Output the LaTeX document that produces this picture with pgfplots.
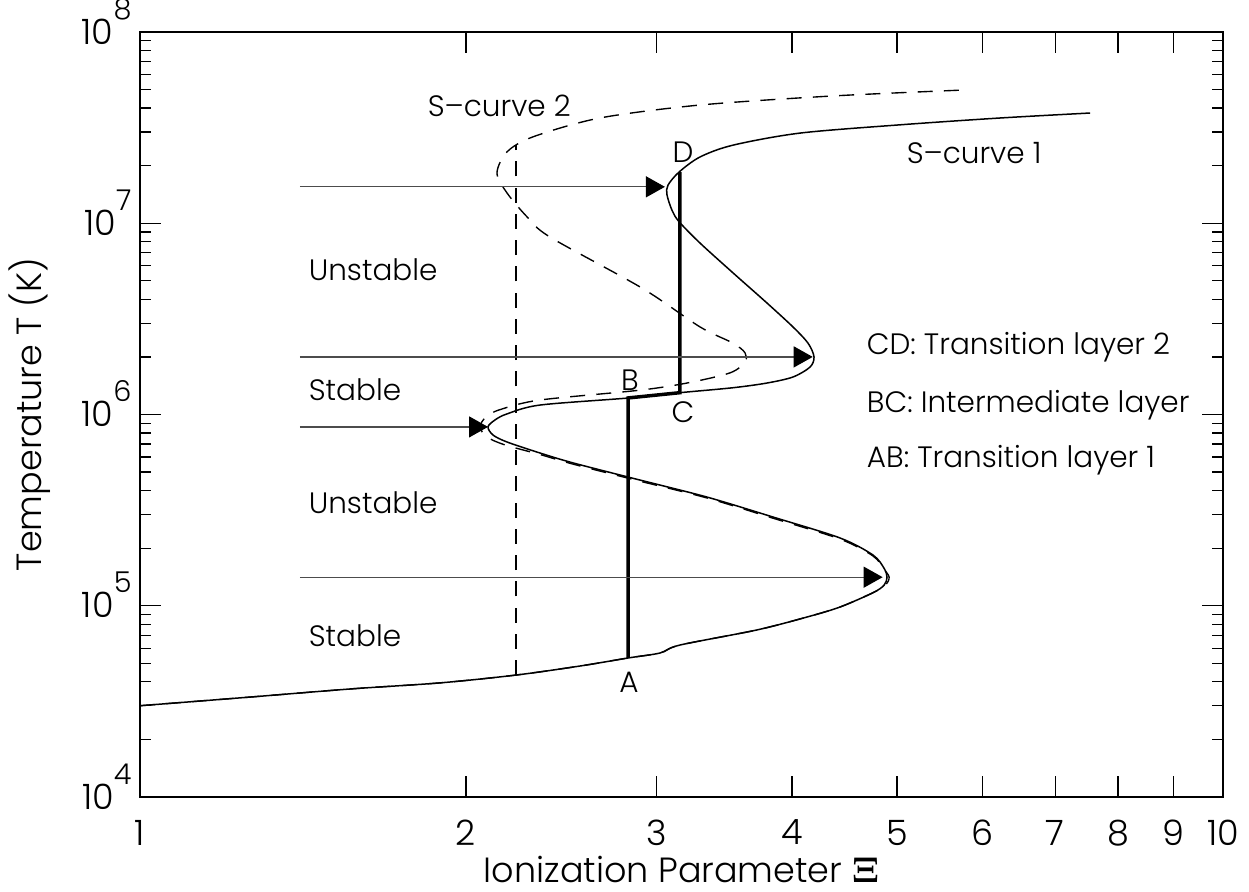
\documentclass[border=0pt]{standalone}
\usepackage[no-math]{fontspec}
\setmainfont{Poppins}[UprightFont=* Light]
\usepackage{pgfplots}
\pgfplotsset{compat=1.18}
\usetikzlibrary{arrows.meta}

\newcommand{\tenpow}[1]{10\raisebox{0.72em}{\fontsize{11.5}{11.5}\selectfont #1}}
\newcommand{\lab}{\fontsize{11.8}{14}\selectfont}

\begin{document}
\begin{tikzpicture}
\begin{axis}[
  xmode=log, ymode=log,
  scale only axis, width=433.2pt, height=306pt,
  xmin=1, xmax=10, ymin=1e4, ymax=1e8,
  axis line style={line width=0.6pt},
  every tick/.style={black, line width=0.5pt},
  tick align=inside,
  xtick pos=both, ytick pos=both,
  xticklabel pos=lower, yticklabel pos=left,
  xtick={1,2,3,4,5,6,7,8,9,10},
  xticklabels={1,2,3,4,5,6,7,8,9,10},
  minor xtick={},
  ytick={1e4,1e5,1e6,1e7,1e8},
  yticklabels={\tenpow{4},\tenpow{5},\tenpow{6},\tenpow{7},\tenpow{8}},
  minor ytick={2e4,3e4,4e4,5e4,6e4,7e4,8e4,9e4,
               2e5,3e5,4e5,5e5,6e5,7e5,8e5,9e5,
               2e6,3e6,4e6,5e6,6e6,7e6,8e6,9e6,
               2e7,3e7,4e7,5e7,6e7,7e7,8e7,9e7},
  major tick length=8.4pt, minor tick length=4.4pt,
  xticklabel style={font=\fontsize{14}{14}\selectfont, anchor=north, inner sep=0pt, yshift=-9pt},
  yticklabel style={font=\fontsize{14}{14}\selectfont, anchor=base east, inner sep=0pt, xshift=-3.2pt, yshift=-4.9pt},
  xlabel={Ionization Parameter $\mathbf{\Xi}$},
  ylabel={Temperature T (K)},
  xlabel style={font=\fontsize{14}{16}\selectfont, at={(axis description cs:0.5,-0.0954)}, anchor=center},
  ylabel style={font=\fontsize{14}{16}\selectfont, at={(axis description cs:-0.1016,0.5)}, anchor=center},
  clip=false,
]

% S-curve 2 (dashed)
\addplot[black, line width=0.55pt, dash pattern=on 6pt off 4.5pt, smooth, tension=0.5] coordinates {
  (1.000,3.00e4) (1.2637,3.33e4) (1.5628,3.67e4) (1.8923,3.95e4) (2.2244,4.34e4)
  (2.5491,4.84e4) (2.8224,5.33e4) (3.0210,5.66e4) (3.1522,6.23e4) (3.7125,7.47e4)
  (4.1297,8.73e4) (4.4307,9.85e4) (4.7520,1.17e5) (4.8800,1.28e5) (4.917,1.41e5)
  (4.8644,1.55e5) (4.7520,1.82e5) (4.4307,2.23e5) (3.8411,2.87e5) (3.3385,3.66e5)
  (2.8952,4.48e5) (2.5115,5.50e5) (2.3403,6.18e5) (2.1730,6.93e5) (2.0914,7.62e5)
  (2.0605,8.61e5) (2.0870,9.71e5) (2.1498,1.06e6) (2.3403,1.19e6) (2.8952,1.34e6)
  (3.1994,1.46e6) (3.5060,1.65e6) (3.6198,1.88e6) (3.6198,2.10e6) (3.5284,2.36e6)
  (3.2891,2.87e6) (2.9075,4.58e6) (2.3908,8.47e6) (2.2771,1.08e7) (2.1822,1.44e7)
  (2.1362,1.83e7) (2.1822,2.36e7) (2.3064,2.83e7) (2.6581,3.55e7) (3.2891,4.15e7)
  (4.3652,4.63e7) (5.8021,4.98e7)
};

% S-curve 1 (solid)
\addplot[black, line width=0.6pt, smooth, tension=0.5] coordinates {
  (1.000,3.00e4) (1.2637,3.33e4) (1.5628,3.67e4) (1.8923,3.95e4) (2.2244,4.34e4)
  (2.5491,4.84e4) (2.8224,5.33e4) (3.0210,5.66e4) (3.1522,6.23e4) (3.7125,7.47e4)
  (4.1297,8.73e4) (4.4307,9.85e4) (4.7520,1.17e5) (4.8644,1.28e5) (4.8955,1.41e5)
  (4.8644,1.57e5) (4.7520,1.84e5) (4.4307,2.26e5) (3.8411,2.91e5) (3.3385,3.70e5)
  (2.8952,4.54e5) (2.5115,5.58e5) (2.3403,6.29e5) (2.1822,7.18e5) (2.1182,7.81e5)
  (2.0958,8.61e5) (2.1272,9.36e5) (2.1822,1.007e6) (2.3403,1.12e6) (2.8284,1.22e6)
  (3.1522,1.30e6) (3.5284,1.38e6) (3.7925,1.46e6) (4.0077,1.57e6) (4.1561,1.77e6)
  (4.1916,2.00e6) (4.1385,2.36e6) (4.0077,2.87e6) (3.7925,3.83e6) (3.5284,5.50e6)
  (3.2891,7.88e6) (3.1455,1.02e7) (3.0990,1.17e7) (3.0662,1.41e7) (3.0727,1.58e7)
  (3.1455,1.85e7) (3.2891,2.22e7) (3.5284,2.56e7) (4.0679,2.96e7) (5.0321,3.27e7)
  (6.2236,3.55e7) (7.5394,3.77e7)
};

% vertical dashed line at the S-curve 2 turning point
\addplot[black, line width=0.55pt, dash pattern=on 6pt off 4.5pt] coordinates {(2.2244,4.34e4) (2.2244,2.57e7)};

% layer path A-B-C-D
\addplot[black, line width=1.4pt] coordinates {
  (2.8224,5.33e4) (2.8224,1.22e6) (3.1522,1.30e6) (3.1522,1.85e7)
};

% arrows marking the turning points
\pgfplotsset{arr/.style={black!70, line width=0.5pt, -{Triangle[length=7.6pt,width=8.4pt,color=black]}}}
\addplot[arr] coordinates {(1.4052,1.55e7) (3.053,1.55e7)};
\addplot[arr] coordinates {(1.4052,2.00e6) (4.18,2.00e6)};
\addplot[arr] coordinates {(1.4052,8.61e5) (2.096,8.61e5)};
\addplot[arr] coordinates {(1.4052,1.41e5) (4.85,1.41e5)};

% annotations
\node[font=\lab, anchor=west] at (axis cs:1.810,4.10e7) {S--curve 2};
\node[font=\lab, anchor=west] at (axis cs:5.01,2.34e7) {S--curve 1};
\node[font=\lab] at (axis cs:3.172,2.36e7) {D};
\node[font=\lab] at (axis cs:2.8345,1.51e6) {B};
\node[font=\lab] at (axis cs:3.172,1.03e6) {C};
\node[font=\lab] at (axis cs:2.828,3.99e4) {A};
\node[font=\lab, anchor=west] at (axis cs:1.4052,5.70e6) {Unstable};
\node[font=\lab, anchor=west] at (axis cs:1.4052,1.34e6) {Stable};
\node[font=\lab, anchor=west] at (axis cs:1.4052,3.44e5) {Unstable};
\node[font=\lab, anchor=west] at (axis cs:1.4052,6.95e4) {Stable};
\node[font=\lab, anchor=west] at (axis cs:4.603,2.25e6) {CD: Transition layer 2};
\node[font=\lab, anchor=west] at (axis cs:4.603,1.12e6) {BC: Intermediate layer};
\node[font=\lab, anchor=west] at (axis cs:4.603,5.78e5) {AB: Transition layer 1};
\end{axis}
\pgfresetboundingbox
\path ([xshift=-56pt,yshift=-38pt]current axis.south west) rectangle ([xshift=10.4pt,yshift=12.8pt]current axis.north east);
\end{tikzpicture}
\end{document}
